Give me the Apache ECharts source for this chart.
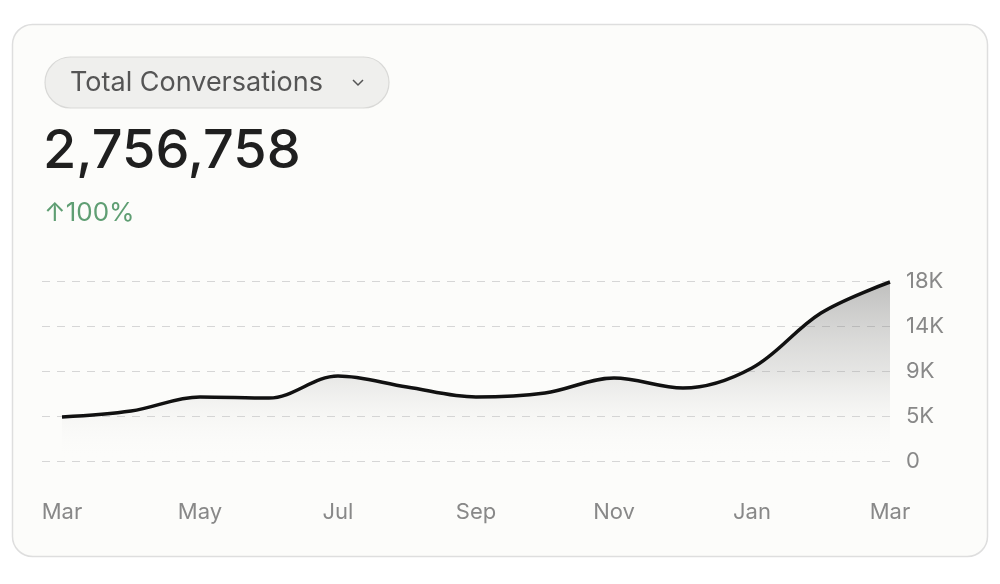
<!DOCTYPE html>
<html>
<head>
<meta charset="utf-8">
<script src="https://cdn.jsdelivr.net/npm/echarts@6/dist/echarts.min.js"></script>
<style>
html,body{margin:0;padding:0;background:#ffffff;}
#chart{width:1000px;height:584px;}
</style>
</head>
<body>
<div id="chart"></div>
<script>
const months = ['Mar','Apr','May','Jun','Jul','Aug','Sep','Oct','Nov','Dec','Jan','Feb','Mar'];
const conversations = [4400, 5000, 6400, 6300, 8500, 7400, 6400, 6800, 8300, 7300, 9300, 14800, 17900];
const yTicks = [0, 4500, 9000, 13500, 18000];
const metricLabel = 'Total Conversations';
const totalValue = '2,756,758';
const changeLabel = '↑100%';

const FONT = 'Inter, "Noto Sans", sans-serif';
const yMax = yTicks[yTicks.length - 1];
const yInterval = yTicks[1] - yTicks[0];

const chart = echarts.init(document.getElementById('chart'), null, {renderer: 'canvas'});
chart.setOption({
  animation: false,
  backgroundColor: '#ffffff',
  textStyle: {fontFamily: FONT},
  graphic: [
    {type: 'rect', z: -10, shape: {x: 12.5, y: 24.5, width: 975, height: 532, r: 20},
     style: {fill: '#fcfcfa', stroke: '#dedede', lineWidth: 1.5}},
    {type: 'rect', z: 5, shape: {x: 45, y: 57, width: 344, height: 51, r: 25.5},
     style: {fill: '#efefed', stroke: '#d9d9d7', lineWidth: 1.2}},
    {type: 'text', z: 6, x: 70, y: 83,
     style: {text: metricLabel, fontFamily: FONT, fontSize: 27, fill: '#555555', verticalAlign: 'middle'}},
    {type: 'polyline', z: 6, shape: {points: [[353, 80], [358, 85], [363, 80]]},
     style: {stroke: '#555555', lineWidth: 1.5, fill: null}},
    {type: 'text', z: 6, x: 43, y: 152,
     style: {text: totalValue, fontFamily: FONT, fontSize: 54, fontWeight: 500, fill: '#1f1f1f', verticalAlign: 'middle'}},
    {type: 'text', z: 6, x: 44, y: 213,
     style: {text: changeLabel, fontFamily: FONT, fontSize: 26, fill: '#5f9e73', verticalAlign: 'middle'}}
  ],
  grid: [
    {left: 42, right: 107, top: 281, bottom: 123},
    {left: 62, right: 110, top: 281, bottom: 123}
  ],
  xAxis: [
    {gridIndex: 0, type: 'value', min: 0, max: 1, show: false},
    {gridIndex: 1, type: 'category', data: months, boundaryGap: false,
     axisLine: {show: false}, axisTick: {show: false}, splitLine: {show: false},
     axisLabel: {interval: 1, color: '#888888', fontSize: 22, fontFamily: FONT, margin: 40}}
  ],
  yAxis: [
    {gridIndex: 0, type: 'value', position: 'right', min: 0, max: yMax, interval: yInterval,
     axisLine: {show: false}, axisTick: {show: false},
     splitLine: {show: true, lineStyle: {color: '#d6d6d6', type: [8, 7], width: 1.2}},
     axisLabel: {color: '#888888', fontSize: 22, fontFamily: FONT, margin: 13,
       formatter: v => v === 0 ? '0' : Math.round(v / 1000) + 'K'}},
    {gridIndex: 1, type: 'value', min: 0, max: yMax, interval: yInterval, show: false}
  ],
  series: [{
    type: 'line',
    xAxisIndex: 1, yAxisIndex: 1,
    data: conversations,
    smooth: 0.35,
    symbol: 'none',
    lineStyle: {color: '#111111', width: 3.5},
    areaStyle: {
      color: {type: 'linear', x: 0, y: 0, x2: 0, y2: 1, colorStops: [
        {offset: 0, color: 'rgba(95,95,95,0.55)'},
        {offset: 0.5, color: 'rgba(150,150,150,0.32)'},
        {offset: 1, color: 'rgba(255,255,255,0)'}
      ]}
    }
  }]
});
</script>
</body>
</html>
